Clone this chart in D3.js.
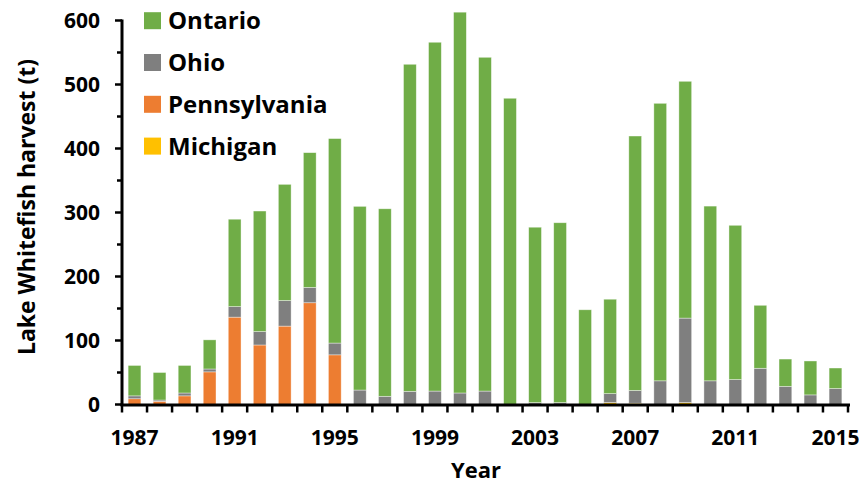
<!DOCTYPE html>
<html>
<head>
<meta charset="utf-8">
<script src="https://cdn.jsdelivr.net/npm/d3@7"></script>
<style>
  html, body { margin: 0; padding: 0; background: #fff; }
  svg { display: block; }
  text { font-family: "Open Sans", "Liberation Sans", sans-serif; font-weight: 700; fill: #000; }
</style>
</head>
<body>
<svg id="chart" width="865" height="486"></svg>
<script>
const years = [1987,1988,1989,1990,1991,1992,1993,1994,1995,1996,1997,1998,1999,2000,2001,2002,2003,2004,2005,2006,2007,2008,2009,2010,2011,2012,2013,2014,2015];
const michigan     = [0,0,0,0,0,0,0,0,0,0,0,0,0,0,0,0,0,0,0,3,2,0,3,0,0,0,0,0,0];
const pennsylvania = [9,5,13.5,51,136.5,93,122.5,159,77.6,0,0,0,0,0,0,0,0,0,0,0,0,0,0,0,0,0,0,0,0];
const ohio         = [4.5,2,4.5,4.5,16.5,21,40,24,18.4,22.6,12.8,20.6,21,18,21,0,3,3,0,14,20,37,132,37,39,56.6,28.4,15,25];
const ontario      = [47.5,43,43,45.5,136.5,188.3,181.5,210.5,319.5,287,293,511,545,595,521.5,478.5,274,281,148,147.5,397.5,433.6,370,273,241,98.4,42.6,53,32];
const seriesNames  = ["Michigan","Pennsylvania","Ohio","Ontario"];
const seriesColors = ["#FFC000","#ED7D31","#7F7F7F","#70AD47"];
const yTicks = [0,100,200,300,400,500,600];
const yMinorTicks = [50,150,250,350,450,550];
const xLabelYears = [1987,1991,1995,1999,2003,2007,2011,2015];
const legendOrder = ["Ontario","Ohio","Pennsylvania","Michigan"];

const svg = d3.select("#chart");
const x0 = 122, x1 = 848, yBottom = 404.5, yTop = 20.5;

const x = d3.scaleBand().domain(years).range([x0, x1]).padding(0);
const y = d3.scaleLinear().domain([0, 600]).range([yBottom, yTop]);

const rows = years.map((yr, i) => ({
  year: yr, Michigan: michigan[i], Pennsylvania: pennsylvania[i], Ohio: ohio[i], Ontario: ontario[i]
}));
const stack = d3.stack().keys(seriesNames)(rows);
const color = d3.scaleOrdinal().domain(seriesNames).range(seriesColors);

const barW = x.bandwidth() * 0.51;
svg.append("g").selectAll("g").data(stack).join("g")
  .attr("fill", d => color(d.key))
  .selectAll("rect").data(d => d).join("rect")
  .attr("x", d => x(d.data.year) + (x.bandwidth() - barW) / 2)
  .attr("width", barW)
  .attr("y", d => y(d[1]))
  .attr("height", d => Math.max(0, y(d[0]) - y(d[1])))
  .attr("stroke", "#fff").attr("stroke-width", 0.7).attr("stroke-opacity", 0.55);

// Y axis
const yAxis = svg.append("g");
yAxis.append("line").attr("x1", x0).attr("x2", x0).attr("y1", y(600) - 1).attr("y2", yBottom + 1.5)
  .attr("stroke", "#000").attr("stroke-width", 3);
yAxis.selectAll("line.major").data(yTicks).join("line").attr("class", "major")
  .attr("x1", x0 - 7).attr("x2", x0).attr("y1", d => y(d)).attr("y2", d => y(d))
  .attr("stroke", "#000").attr("stroke-width", 2.5);
yAxis.selectAll("line.minor").data(yMinorTicks).join("line").attr("class", "minor")
  .attr("x1", x0 - 5).attr("x2", x0).attr("y1", d => y(d)).attr("y2", d => y(d))
  .attr("stroke", "#000").attr("stroke-width", 2.5);
yAxis.selectAll("text").data(yTicks).join("text")
  .attr("x", 100).attr("y", d => y(d)).attr("dy", "0.36em")
  .attr("text-anchor", "end").attr("font-size", 21).text(d => d);

// X axis
const xAxis = svg.append("g");
xAxis.append("line").attr("x1", x0 - 1.5).attr("x2", x1 + 2).attr("y1", yBottom + 0.5).attr("y2", yBottom + 0.5)
  .attr("stroke", "#000").attr("stroke-width", 3);
const bounds = years.map(yr => x(yr)).concat([x1]);
xAxis.selectAll("line.tick").data(bounds).join("line").attr("class", "tick")
  .attr("x1", d => d).attr("x2", d => d).attr("y1", yBottom).attr("y2", yBottom + 8)
  .attr("stroke", "#000").attr("stroke-width", 2.5);
xAxis.selectAll("text").data(xLabelYears).join("text")
  .attr("x", d => x(d) + x.bandwidth() / 2).attr("y", 437).attr("dy", "0.36em")
  .attr("text-anchor", "middle").attr("font-size", 21).text(d => d);

// Axis titles
svg.append("text").attr("x", 476).attr("y", 470).attr("dy", "0.36em")
  .attr("text-anchor", "middle").attr("font-size", 22).text("Year");
svg.append("text").attr("transform", "translate(27,207) rotate(-90)").attr("dy", "0.36em")
  .attr("text-anchor", "middle").attr("font-size", 23).text("Lake Whitefish harvest (t)");

// Legend
const legend = svg.append("g").selectAll("g").data(legendOrder).join("g")
  .attr("transform", (d, i) => `translate(144, ${20.7 + i * 41.8})`);
legend.append("rect").attr("x", 0).attr("y", -8.5).attr("width", 17).attr("height", 17)
  .attr("fill", d => color(d));
legend.append("text").attr("x", 24).attr("y", 0).attr("dy", "0.36em")
  .attr("font-size", 24).text(d => d);
</script>
</body>
</html>
